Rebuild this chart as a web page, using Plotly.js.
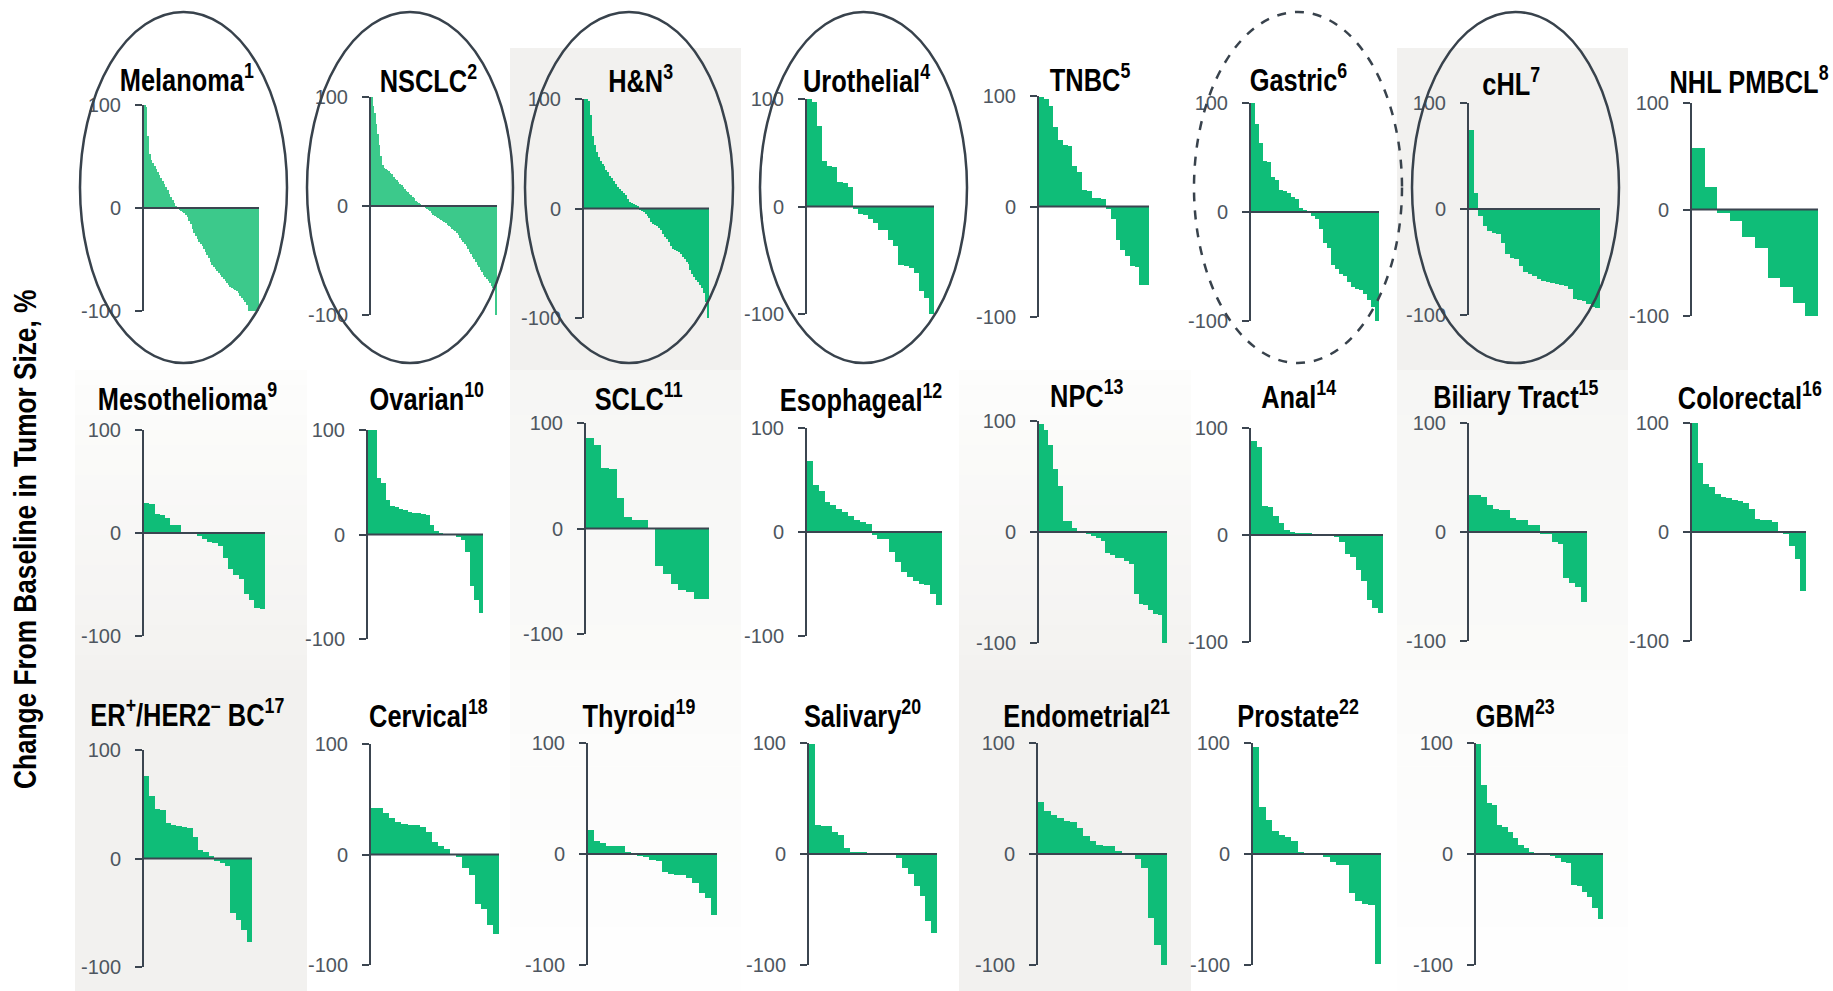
<!DOCTYPE html>
<html>
<head>
<meta charset="utf-8">
<script src="https://cdn.plot.ly/plotly-3.0.1.min.js"></script>
<style>html,body{margin:0;padding:0;background:#fff;}#chart{width:1833px;height:991px;}</style>
</head>
<body>
<div id="chart"></div>
<script>
// ---------------- DATA (best-fit % change from baseline) ----------------
const titles = ['Melanoma<sup>1</sup>','NSCLC<sup>2</sup>','H&N<sup>3</sup>','Urothelial<sup>4</sup>','TNBC<sup>5</sup>','Gastric<sup>6</sup>','cHL<sup>7</sup>','NHL PMBCL<sup>8</sup>',
  'Mesothelioma<sup>9</sup>','Ovarian<sup>10</sup>','SCLC<sup>11</sup>','Esophageal<sup>12</sup>','NPC<sup>13</sup>','Anal<sup>14</sup>','Biliary Tract<sup>15</sup>','Colorectal<sup>16</sup>',
  'ER<sup>+</sup>/HER2<sup>–</sup> BC<sup>17</sup>','Cervical<sup>18</sup>','Thyroid<sup>19</sup>','Salivary<sup>20</sup>','Endometrial<sup>21</sup>','Prostate<sup>22</sup>','GBM<sup>23</sup>'];
const yTickVals = [-100, 0, 100];
const yTickText = ['-100', '0', '100'];
const yAxisTitle = 'Change From Baseline in Tumor Size, %';

const melanoma = [100,98,70,52,47,44,41,38,35,32,29,26,23,20,17,14,11,8,5,2,-1,-2,-3,-4,-5,-7,-9,-13,-16,-20,-24,-27,-30,-33,-35,-37,-40,-43,-46,-49,-52,-55,-57,-59,-61,-63,-65,-67,-69,-71,-73,-75,-77,-78,-79,-80,-81,-83,-85,-87,-89,-91,-94,-100,-100,-100,-100,-100,-100,-100];
const nsclc = [100,92,85,75,66,56,46,38,35,34,33,32,30,29,27,25,24,22,20,19,17,16,14,13,11,10,8,7,5,4,3,2,1,-1,-2,-3,-4,-5,-6,-8,-9,-10,-11,-12,-13,-14,-15,-16,-17,-18,-19,-21,-22,-23,-25,-27,-29,-31,-33,-35,-37,-39,-42,-44,-47,-49,-51,-54,-56,-59,-61,-63,-65,-67,-69,-71,-73,-75,-77,-100];
const headNeck = [100,100,98,85,66,58,52,47,43,41,39,35,33,30,28,25,22,20,18,16,14,12,9,6,5,4,3,2,-1,-2,-3,-5,-7,-9,-12,-14,-15,-16,-18,-20,-23,-26,-28,-31,-34,-37,-38,-39,-40,-42,-44,-46,-49,-51,-56,-60,-63,-65,-67,-70,-73,-77,-85,-100];
const urothelial = [100,97,75,42,38,37,23,22,18,-2,-7,-8,-12,-15,-22,-22,-31,-37,-54,-55,-57,-62,-79,-85,-100];
const tnbc = [99,97,91,72,60,56,55,37,31,15,14,8,8,7,-2,-11,-30,-39,-45,-54,-55,-71,-71];
const gastric = [100,81,63,47,46,32,29,20,19,17,14,12,4,2,-1,-4,-6,-16,-28,-33,-49,-52,-57,-59,-64,-69,-71,-72,-75,-81,-87,-100];
const chl = [75,15,-7,-16,-21,-23,-24,-32,-42,-46,-47,-54,-59,-61,-63,-66,-68,-69,-70,-71,-72,-73,-75,-85,-86,-87,-90,-92,-93];
const nhlPmbcl = [58,21,-3,-11,-26,-36,-64,-73,-88,-100];
const mesothelioma = [29,28,18,17,15,8,8,1,0.5,-1,-3,-6,-9,-10,-13,-24,-35,-41,-45,-59,-65,-73,-74];
const ovarian = [100,100,54,49,33,27,26,24,23,22,21,21,20,19,9,3,1,0.5,0.3,-0.5,-2,-5,-17,-49,-63,-75];
const sclc = [86,79,57,56,29,11,8,8,0,-36,-43,-53,-58,-60,-67,-67];
const esophageal = [68,45,39,29,26,22,19,15,12,10,8,-3,-7,-7,-19,-29,-38,-43,-47,-50,-51,-60,-70];
const npc = [97,92,78,57,41,10,10,4,-0.5,-1,-2,-4,-5,-8,-19,-21,-23,-23,-26,-29,-56,-65,-66,-70,-74,-75,-100];
const anal = [88,82,27,26,18,11,5,3,2,2,2,1,1,1,1,-2,-7,-18,-21,-33,-43,-61,-68,-73];
const biliary = [34,34,32,25,21,20,20,13,11,11,6,6,-2,-2,-9,-11,-42,-47,-50,-64];
const colorectal = [100,63,44,41,35,32,31,29,28,27,21,12,11,11,9,-0.5,-2,-13,-25,-54];
const erHer2 = [76,58,46,45,33,31,30,29,28,20,8,6,2,-2,-4,-7,-50,-57,-66,-77];
const cervical = [42,42,38,33,29,28,27,27,25,20,11,8,5,0,-2,-12,-19,-45,-49,-64,-72];
const thyroid = [22,12,10,7,7,7,2,0.5,-2,-3,-5,-6,-16,-18,-19,-19,-22,-26,-35,-40,-55];
const salivary = [99,26,25,25,20,17,5,2,2,1.5,1,0.5,0.3,0,0,-4,-13,-18,-29,-38,-60,-71];
const endometrial = [47,39,35,32,30,29,23,16,12,8,7,7,3,0.3,-0.3,-4.5,-13,-58,-82,-100];
const prostate = [96,42,31,21,17,15,12,1.5,0.5,0.3,0.2,-3,-7,-10,-10,-35,-42,-45,-46,-99];
const gbm = [99,62,46,44,26,24,20,14,8,5,1.5,0.3,0.3,0,-2,-4,-7,-8,-28,-29,-34,-39,-49,-59];

const series = [melanoma,nsclc,headNeck,urothelial,tnbc,gastric,chl,nhlPmbcl,
  mesothelioma,ovarian,sclc,esophageal,npc,anal,biliary,colorectal,
  erHer2,cervical,thyroid,salivary,endometrial,prostate,gbm];

// ---------------- LAYOUT GEOMETRY (pixels in a 1833x991 page) ----------------
// [axis x, bars end x, y of +100, y of -100, title centre x, title centre y]
const panels = [
  [144,259,105,311,187,78],[371,497,97,315,428,79],[584,709,99,318,640,79],[807,934,99,314,866,79],
  [1039,1149,96,317,1090,78],[1251,1379,103,321,1298,78],[1469,1600,103,315,1511,82],[1692,1818,103,316,1749,80],
  [144,265,430,636,187,397],[368,483,430,639,427,397],[586,709,423,634,638,397],[807,942,428,636,861,398],
  [1039,1167,421,643,1087,394],[1251,1383,428,642,1298,395],[1469,1587,423,641,1516,395],[1692,1806,423,641,1750,396],
  [144,252,750,967,187,713],[371,499,744,965,428,714],[588,717,743,965,639,714],[809,937,743,965,862,714],
  [1038,1167,743,965,1086,714],[1253,1381,743,965,1298,714],[1476,1603,743,965,1515,714]
];
// ellipses around panels: [x0, x1, y0, y1, dashed]
const ellipses = [[80,287,12,363,false],[307,513,12,363,false],[525,733,12,363,false],[760,967,12,363,false],[1194,1402,12,363,true],[1412,1619,12,363,false]];

const W = 1833, H = 991;
const px = x => x / W;
const py = y => 1 - y / H;

const GREEN = '#0fbd78';
const GREEN_LIGHT = '#3cc98b';
const AXIS = '#3b4550';
const BOLD = "'Liberation Sans', Arial, sans-serif";
const SANS = "'Liberation Sans', Arial, sans-serif";
const NARROW_SCALE = 0.82;

const traces = [];
const layout = {
  width: W, height: H,
  margin: {l: 0, r: 0, t: 0, b: 0, pad: 0},
  paper_bgcolor: '#ffffff',
  plot_bgcolor: 'rgba(0,0,0,0)',
  showlegend: false,
  bargap: 0,
  shapes: [],
  annotations: []
};

// background shaded bands (vertical gradients approximated with strips)
function hex(c){return [parseInt(c.slice(1,3),16),parseInt(c.slice(3,5),16),parseInt(c.slice(5,7),16)];}
function mix(a,b,t){const A=hex(a),B=hex(b);return 'rgb('+A.map((v,i)=>Math.round(v+(B[i]-v)*t)).join(',')+')';}
function band(x0,x1,y0,y1,c0,c1,steps){
  const h=(y1-y0)/steps;
  for(let k=0;k<steps;k++){
    layout.shapes.push({type:'rect',xref:'paper',yref:'paper',layer:'below',
      x0:px(x0),x1:px(x1),y0:py(y0+h*(k+1)+0.5),y1:py(y0+h*k),
      fillcolor:mix(c0,c1,steps===1?0:k/(steps-1)),line:{width:0}});
  }
}
// grey at top fading down
[[510,741],[1397,1628]].forEach(([a,b])=>{
  band(a,b,48,370,'#f2f1ef','#f3f2f0',1);
  band(a,b,370,670,'#f6f6f4','#fafaf9',20);
  band(a,b,670,991,'#fbfbfa','#fefefe',10);
});
// white at top, grey towards bottom
[[75,307],[959,1191]].forEach(([a,b])=>{
  band(a,b,370,670,'#fdfdfc','#f3f2f0',20);
  band(a,b,670,991,'#f2f1ef','#f2f1ef',1);
});

series.forEach((vals, i) => {
  const n = i + 1;
  const sfx = n === 1 ? '' : String(n);
  const [ax, bx, yt, yb, tx, ty] = panels[i];
  const idx = vals.map((_, k) => k);
  traces.push({
    type: 'bar', x: idx, y: vals, xaxis: 'x' + sfx, yaxis: 'y' + sfx,
    marker: {color: (i < 2 ? GREEN_LIGHT : GREEN), line: {width: 0}},
    width: 1, hoverinfo: 'skip'
  });
  layout['xaxis' + sfx] = {
    domain: [px(ax), px(bx)], anchor: 'y' + sfx, range: [-0.5, vals.length - 0.5],
    showgrid: false, zeroline: false, showline: false, showticklabels: false, ticks: '', fixedrange: true
  };
  layout['yaxis' + sfx] = {
    domain: [py(yb), py(yt)], anchor: 'x' + sfx, range: [-100, 100],
    tickmode: 'array', tickvals: yTickVals, ticktext: yTickText,
    ticks: 'outside', ticklen: 7, tickwidth: 2, tickcolor: AXIS,
    showline: true, linecolor: AXIS, linewidth: 2,
    showgrid: false, zeroline: false, fixedrange: true,
    ticklabelstandoff: 10,
    tickfont: {family: SANS, size: 20, color: '#4e5660'}
  };
  // zero line across the panel
  layout.shapes.push({type: 'line', xref: 'x' + sfx + ' domain', yref: 'y' + sfx,
    x0: 0, x1: 1, y0: 0, y1: 0, layer: 'above', line: {color: AXIS, width: 2}});
  layout.annotations.push({
    text: titles[i], xref: 'paper', yref: 'paper', x: px(tx), y: py(ty),
    xanchor: 'center', yanchor: 'middle', showarrow: false,
    font: {family: BOLD, size: 31, color: '#000000', weight: 'bold'}
  });
});

ellipses.forEach(([x0, x1, y0, y1, dashed]) => {
  layout.shapes.push({type: 'circle', xref: 'paper', yref: 'paper', layer: 'above',
    x0: px(x0), x1: px(x1), y0: py(y1), y1: py(y0),
    line: {color: '#38424c', width: 2.5, dash: dashed ? 'dash' : 'solid'}, fillcolor: 'rgba(0,0,0,0)'});
});

layout.annotations.push({
  text: yAxisTitle, xref: 'paper', yref: 'paper', x: px(25), y: py(540),
  xanchor: 'center', yanchor: 'middle', textangle: -90, showarrow: false,
  font: {family: BOLD, size: 32, color: '#000000', weight: 'bold'}
});

function condense() {
  document.querySelectorAll('#chart .annotation-text').forEach(t => {
    const x = parseFloat(t.getAttribute('x')) || 0;
    t.setAttribute('transform', 'translate(' + x + ',0) scale(' + NARROW_SCALE + ',1) translate(' + (-x) + ',0)');
  });
}

Plotly.newPlot('chart', traces, layout, {displayModeBar: false, staticPlot: true}).then(condense);
</script>
</body>
</html>
